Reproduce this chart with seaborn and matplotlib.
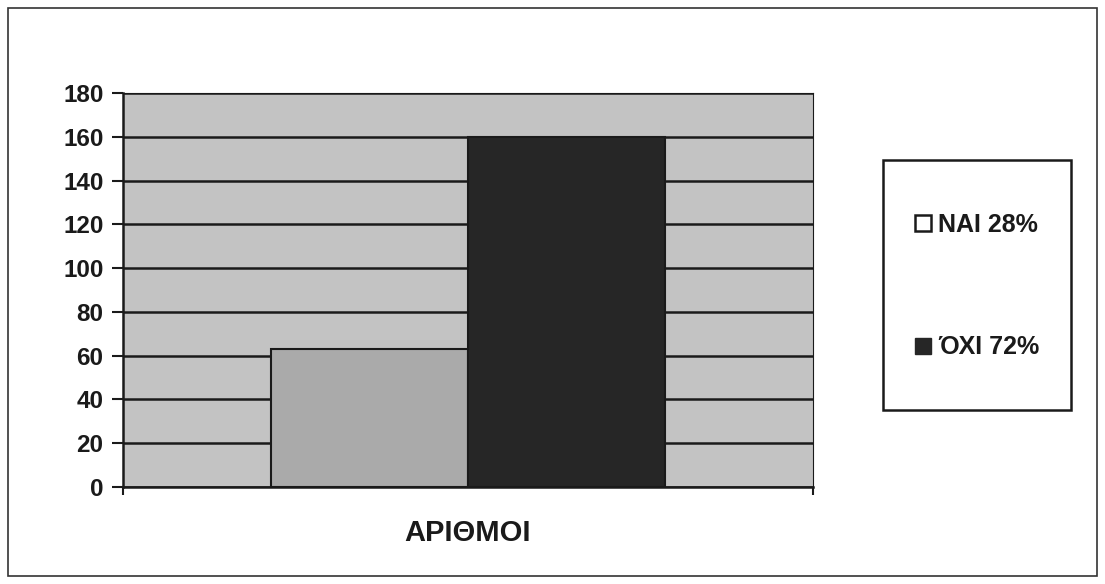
import matplotlib
matplotlib.use("Agg")
import matplotlib.pyplot as plt
from matplotlib.lines import Line2D
from matplotlib.patches import Rectangle
import seaborn as sns
import pandas as pd

categories = ["ΑΡΙΘΜΟΙ"]
answers = ["ΝΑΙ", "ΌΧΙ"]
counts = [63, 160]
legend_labels = ["ΝΑΙ 28%", "ΌΧΙ 72%"]
y_ticks = [0, 20, 40, 60, 80, 100, 120, 140, 160, 180]

df = pd.DataFrame({"cat": categories * len(answers), "answer": answers, "count": counts})

sns.set_theme(style="white")
plt.rcParams["font.family"] = ["Liberation Sans", "DejaVu Sans"]
plt.rcParams["font.weight"] = "bold"

ink = "#1a1a1a"

fig = plt.figure(figsize=(11.05, 5.84), dpi=100)
ax = fig.add_axes([123 / 1105, 1 - 487 / 584, 690 / 1105, 394 / 584])
ax.set_facecolor("#c3c3c3")

bar_colors = ["#aaaaaa", "#262626"]
sns.barplot(data=df, x="cat", y="count", hue="answer", palette=bar_colors,
            width=0.571, gap=0, ax=ax, legend=False,
            edgecolor=ink, linewidth=1.5)
for patch in ax.patches:
    patch.set_zorder(3)

ax.set_xlim(-0.5, 0.5)
ax.set_ylim(0, 180)
ax.set_yticks(y_ticks)
ax.set_yticklabels([str(t) for t in y_ticks], fontsize=17.5, fontweight="bold", color=ink)
ax.yaxis.grid(True, color=ink, linewidth=1.8)
ax.set_axisbelow(True)
ax.tick_params(axis="y", length=8, width=1.5, color=ink, left=True, pad=6)

ax.set_xticks([0])
ax.set_xticklabels(categories, fontsize=21, fontweight="bold", color=ink)
ax.tick_params(axis="x", which="major", length=0, pad=23)
ax.set_xticks([-0.5, 0.5], minor=True)
ax.tick_params(axis="x", which="minor", length=6, width=1.5, color=ink, bottom=True)
ax.set_xlabel("")
ax.set_ylabel("")
for side, sp in ax.spines.items():
    sp.set_color(ink)
    sp.set_linewidth(1.8)
    sp.set_visible(True)
ax.spines["top"].set_linewidth(0.8)
ax.spines["right"].set_linewidth(0.8)

# legend box
fig.patches.append(Rectangle((883 / 1105, 1 - 410 / 584), 188 / 1105, 250 / 584,
                             transform=fig.transFigure, facecolor="white",
                             edgecolor=ink, linewidth=1.8))
handles = [
    Line2D([], [], linestyle="none", marker="s", markersize=12,
           markerfacecolor="white", markeredgecolor=ink, markeredgewidth=1.8),
    Line2D([], [], linestyle="none", marker="s", markersize=12,
           markerfacecolor="#262626", markeredgecolor="#262626"),
]
leg = fig.legend(handles, legend_labels, loc="center", bbox_to_anchor=(976 / 1105, 1 - 286 / 584),
                 frameon=False, labelspacing=3.95, handletextpad=0.2, handlelength=0.8,
                 prop={"size": 18, "weight": "bold"})
for t in leg.get_texts():
    t.set_color(ink)

# outer frame
fig.patches.append(Rectangle((8 / 1105, 8 / 584), 1089 / 1105, 568 / 584,
                             transform=fig.transFigure, facecolor="none",
                             edgecolor="#333333", linewidth=1.2))

fig.savefig("out.png", dpi=100, facecolor="white")
